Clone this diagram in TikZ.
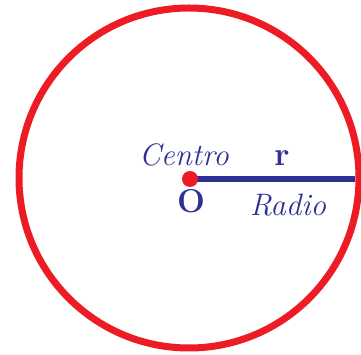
\documentclass[tikz,border=0pt]{standalone}
\usepackage{tikz}
\usetikzlibrary{positioning}
\definecolor{rojo}{HTML}{ED1C24}
\definecolor{azul}{HTML}{2E3192}

\begin{document}
\begin{tikzpicture}[x=1pt,y=1pt,
  etiqueta/.style={text=azul,anchor=base,inner sep=0pt,font=\fontsize{31}{34}\selectfont}]
\useasboundingbox (0,0) rectangle (361,355);
\draw[rojo,line width=7pt] (189,177) circle (170);
\coordinate (o) at (190,176);
\coordinate (borde) at (355,176);
\draw[azul,line width=6pt] (o)--(borde);
\node[circle,fill=rojo,minimum size=16pt,inner sep=0pt] (centro) at (o) {};
\node[etiqueta] (nombre) at (184,189) {\itshape Centro};
\node[etiqueta,font=\fontsize{33}{36}\selectfont] (letra) at (282,189) {\bfseries r};
\node[etiqueta,font=\fontsize{33}{36}\selectfont] (punto) at (191,142) {\bfseries O};
\node[etiqueta] (radio) at (288,139) {\itshape Radio};
\end{tikzpicture}
\end{document}
